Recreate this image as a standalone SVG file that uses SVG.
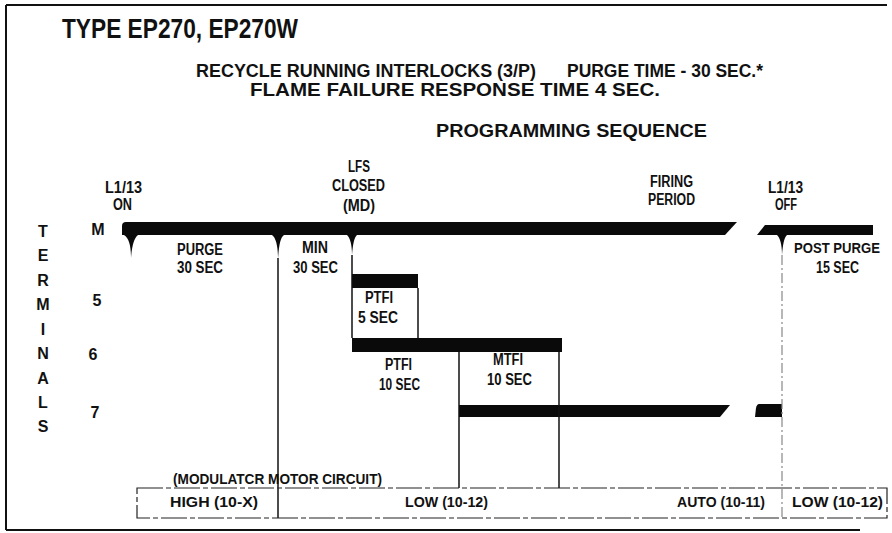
<svg xmlns="http://www.w3.org/2000/svg" width="892" height="533" viewBox="0 0 892 533">
<style>
text{font-family:"Liberation Sans",Arial,sans-serif;fill:#111;}
.t{font-size:28px;font-weight:bold;}
.h{font-size:18px;font-weight:bold;}
.l{font-size:16px;font-weight:bold;}
.b{font-size:15px;font-weight:bold;}
.bar{fill:#0a0a0a;}
.ln{stroke:#111;stroke-width:1.5;fill:none;}
.dl{stroke:#888;stroke-width:1.2;fill:none;stroke-dasharray:10 3 2 3;}
.bx{stroke:#222;stroke-width:1.2;fill:none;stroke-dasharray:26 3 5 3;}
.fr{stroke:#111;stroke-width:2;fill:none;}
</style>
<g id="frame">
<line class="fr" x1="6" y1="5" x2="887" y2="5"/>
<line class="fr" x1="6" y1="5" x2="6" y2="530"/>
<line class="fr" x1="6" y1="530" x2="860" y2="530"/>
</g>
<g id="header">
<text class="t" x="62" y="38" textLength="236" lengthAdjust="spacingAndGlyphs">TYPE EP270, EP270W</text>
<text class="h" x="196" y="77" textLength="340" lengthAdjust="spacingAndGlyphs">RECYCLE RUNNING INTERLOCKS (3/P)</text>
<text class="h" x="567" y="77" textLength="196" lengthAdjust="spacingAndGlyphs">PURGE TIME - 30 SEC.*</text>
<text class="h" x="250" y="96" textLength="410" lengthAdjust="spacingAndGlyphs">FLAME FAILURE RESPONSE TIME 4 SEC.</text>
<text class="h" x="436" y="137" textLength="271" lengthAdjust="spacingAndGlyphs">PROGRAMMING SEQUENCE</text>
</g>
<g id="events">
<text class="l" x="105" y="193" textLength="37" lengthAdjust="spacingAndGlyphs">L1/13</text>
<text class="l" x="113" y="210" textLength="19" lengthAdjust="spacingAndGlyphs">ON</text>
<text class="l" x="348" y="172" textLength="22" lengthAdjust="spacingAndGlyphs">LFS</text>
<text class="l" x="332" y="191" textLength="53" lengthAdjust="spacingAndGlyphs">CLOSED</text>
<text class="l" x="343" y="211" textLength="32" lengthAdjust="spacingAndGlyphs">(MD)</text>
<text class="l" x="650" y="187" textLength="43" lengthAdjust="spacingAndGlyphs">FIRING</text>
<text class="l" x="648" y="205" textLength="47" lengthAdjust="spacingAndGlyphs">PERIOD</text>
<text class="l" x="768" y="193" textLength="35" lengthAdjust="spacingAndGlyphs">L1/13</text>
<text class="l" x="775" y="210" textLength="22" lengthAdjust="spacingAndGlyphs">OFF</text>
</g>
<g id="terminals">
<text class="l" x="43" y="237" text-anchor="middle">T</text>
<text class="l" x="43" y="261" text-anchor="middle">E</text>
<text class="l" x="43" y="286" text-anchor="middle">R</text>
<text class="l" x="43" y="310" text-anchor="middle">M</text>
<text class="l" x="43" y="335" text-anchor="middle">I</text>
<text class="l" x="43" y="359" text-anchor="middle">N</text>
<text class="l" x="43" y="384" text-anchor="middle">A</text>
<text class="l" x="43" y="408" text-anchor="middle">L</text>
<text class="l" x="43" y="432" text-anchor="middle">S</text>
<text class="l" x="98" y="235" text-anchor="middle">M</text>
<text class="l" x="97" y="306" text-anchor="middle">5</text>
<text class="l" x="93" y="360" text-anchor="middle">6</text>
<text class="l" x="95" y="418" text-anchor="middle">7</text>
</g>
<g id="bar-M">
<path class="bar" d="M122,226 Q122,222 126,222 L737,222 L725,235 L122,235 Z"/>
<path class="bar" d="M124,235 C129,238 131,246 131,258 C132,246 134,238 138,235 Z"/>
<path class="bar" d="M272,235 C276,238 278,246 278,259 C279,246 280,238 284,235 Z"/>
<path class="bar" d="M347,235 C350,238 352,244 352,255 C353,244 354,238 357,235 Z"/>
<path class="bar" d="M765,225 L873,225 L873,235 L757,235 Z"/>
<path class="bar" d="M777,235 C780,238 782,244 782,255 C783,244 784,238 787,235 Z"/>
</g>
<g id="bar-5"><rect class="bar" x="352" y="274" width="66" height="14"/></g>
<g id="bar-6"><rect class="bar" x="352" y="338" width="210" height="14"/></g>
<g id="bar-7">
<path class="bar" d="M459,405 L730,405 L720,417 L459,417 Z"/>
<path class="bar" d="M759,404 L782,404 L782,417 L755,417 L756,408 Q757,404 759,404 Z"/>
</g>
<g id="connectors">
<line class="ln" x1="278" y1="258" x2="278" y2="518"/>
<line class="ln" x1="352" y1="255" x2="352" y2="338"/>
<line class="ln" x1="418" y1="288" x2="418" y2="338"/>
<line class="ln" x1="459" y1="352" x2="459" y2="488"/>
<line class="ln" x1="559" y1="352" x2="559" y2="488"/>
<line class="dl" x1="782" y1="255" x2="782" y2="518"/>
</g>
<g id="labels">
<text class="l" x="177" y="255" textLength="46" lengthAdjust="spacingAndGlyphs">PURGE</text>
<text class="l" x="177" y="273" textLength="46" lengthAdjust="spacingAndGlyphs">30 SEC</text>
<text class="l" x="302" y="253" textLength="26" lengthAdjust="spacingAndGlyphs">MIN</text>
<text class="l" x="293" y="273" textLength="45" lengthAdjust="spacingAndGlyphs">30 SEC</text>
<text class="l" x="794" y="253" textLength="86" lengthAdjust="spacingAndGlyphs" style="font-size:15px">POST PURGE</text>
<text class="l" x="816" y="273" textLength="43" lengthAdjust="spacingAndGlyphs">15 SEC</text>
<text class="l" x="365" y="303" textLength="28" lengthAdjust="spacingAndGlyphs">PTFI</text>
<text class="l" x="358" y="323" textLength="40" lengthAdjust="spacingAndGlyphs">5 SEC</text>
<text class="l" x="385" y="370" textLength="27" lengthAdjust="spacingAndGlyphs">PTFI</text>
<text class="l" x="379" y="390" textLength="41" lengthAdjust="spacingAndGlyphs">10 SEC</text>
<text class="l" x="493" y="365" textLength="30" lengthAdjust="spacingAndGlyphs">MTFI</text>
<text class="l" x="487" y="385" textLength="45" lengthAdjust="spacingAndGlyphs">10 SEC</text>
</g>
<g id="modulator">
<text class="b" x="173" y="484" textLength="209" lengthAdjust="spacingAndGlyphs">(MODULATCR MOTOR CIRCUIT)</text>
<rect class="bx" x="137" y="488" width="750" height="30"/>
<text class="b" x="170" y="507" textLength="88" lengthAdjust="spacingAndGlyphs">HIGH (10-X)</text>
<text class="b" x="405" y="507" textLength="83" lengthAdjust="spacingAndGlyphs">LOW (10-12)</text>
<text class="b" x="677" y="507" textLength="88" lengthAdjust="spacingAndGlyphs">AUTO (10-11)</text>
<text class="b" x="792" y="507" textLength="91" lengthAdjust="spacingAndGlyphs">LOW (10-12)</text>
</g>
</svg>
